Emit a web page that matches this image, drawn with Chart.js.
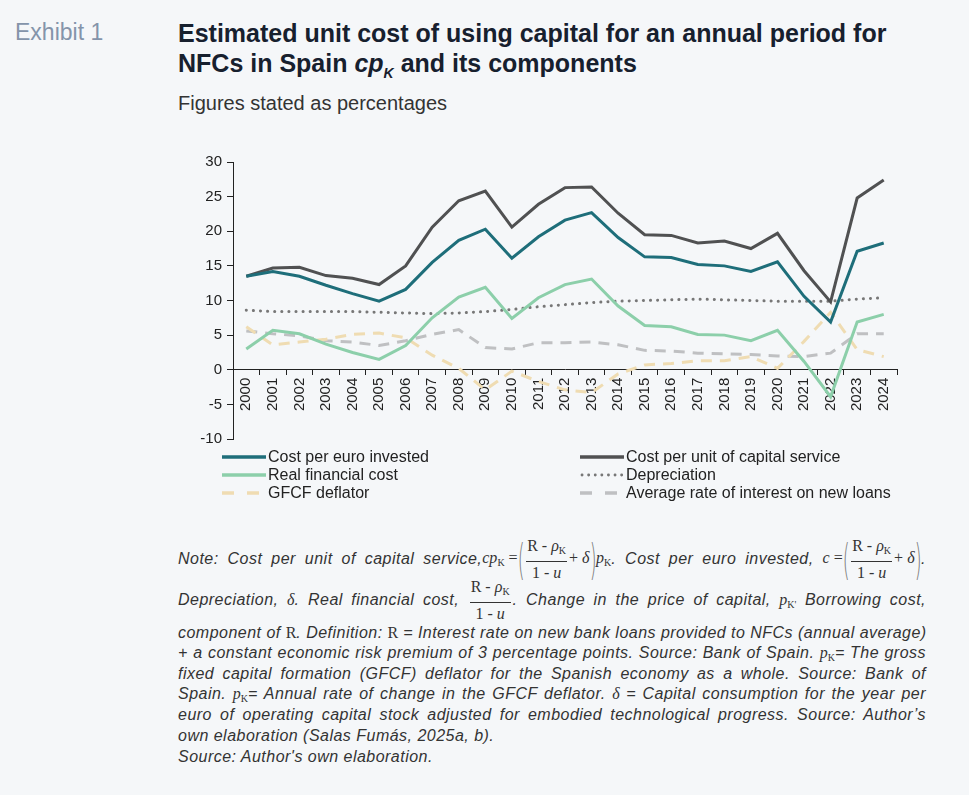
<!DOCTYPE html>
<html>
<head>
<meta charset="utf-8">
<script src="https://cdn.jsdelivr.net/npm/chart.js@4.4.1/dist/chart.umd.min.js"></script>
<style>
  html, body { margin: 0; padding: 0; }
  body { width: 969px; height: 795px; background: #f5f7f9; position: relative; overflow: hidden;
         font-family: "Liberation Sans", Arial, Helvetica, sans-serif; color: #222; }
  .abs { position: absolute; white-space: nowrap; }
  #exhibit { left: 15px; top: 19px; font-size: 23px; color: #8494aa; }
  #title { left: 178px; top: 18px; font-size: 25px; font-weight: bold; color: #17202e; line-height: 30px; }
  #title sub { font-size: 14px; vertical-align: -6px; }
  #subtitle { left: 178px; top: 92px; font-size: 20px; color: #333; }
  #chartWrap { left: 160px; top: 148px; width: 745px; height: 305px; }
  #legend { left: 222px; top: 448px; font-size: 16px; color: #222; }
  .lrow { position: absolute; white-space: nowrap; height: 18px; line-height: 18px; display: flex; align-items: center; }
  .lrow svg { display: block; margin-right: 2px; }
  .note { position: absolute; left: 178px; width: 748px; font-style: italic; font-size: 16px; letter-spacing: 0.48px; color: #333;
          text-align: justify; text-align-last: justify; white-space: nowrap; }
  .note.last { text-align-last: left; }
  .m { display: inline-block; vertical-align: middle; font-family: "Liberation Serif", "DejaVu Serif", serif; font-style: normal;
       font-size: 16px; letter-spacing: 0; text-align-last: auto; }
  .m i { font-style: italic; }
  .frac { display: inline-block; vertical-align: middle; text-align: center; text-align-last: center; margin: 0 2px; }
  .frac .num { display: block; border-bottom: 1px solid #333; padding: 0 1px 2px 1px; line-height: 16px; }
  .frac .den { display: block; padding-top: 3px; line-height: 16px; }
  .par { display: inline-block; font-family: "DejaVu Sans", sans-serif; font-weight: 200; font-size: 32px;
         color: #777; vertical-align: middle; transform: scaleX(0.55) scaleY(1.35); line-height: 30px; margin: 0 -3px; }
  .m sub { font-size: 10px; vertical-align: -3px; }
  .mi { display: inline; vertical-align: baseline; }
</style>
</head>
<body>
<div id="exhibit" class="abs">Exhibit 1</div>
<div id="title" class="abs">Estimated unit cost of using capital for an annual period for<br>NFCs in Spain <i>cp<sub>K</sub></i> and its components</div>
<div id="subtitle" class="abs">Figures stated as percentages</div>
<div id="chartWrap" class="abs"><canvas id="c" width="745" height="305"></canvas></div>
<div id="legend" class="abs"></div>

<div class="note" style="top:538px;">Note: Cost per unit of capital service,<span class="m"><i>cp</i><sub>K</sub> =<span class="par">(</span><span class="frac"><span class="num">R - <i>ρ</i><sub>K</sub></span><span class="den">1 - <i>u</i></span></span>+ <i>δ</i><span class="par">)</span><i>p</i><sub>K</sub></span>. Cost per euro invested, <span class="m"><i>c</i> =<span class="par">(</span><span class="frac"><span class="num">R - <i>ρ</i><sub>K</sub></span><span class="den">1 - <i>u</i></span></span>+ <i>δ</i><span class="par">)</span></span>.</div>
<div class="note" style="top:579px;">Depreciation, <span class="m mi"><i>δ</i></span>. Real financial cost, <span class="m"><span class="frac"><span class="num">R - <i>ρ</i><sub>K</sub></span><span class="den">1 - <i>u</i></span></span></span>. Change in the price of capital, <span class="m mi"><i>p</i><sub>K'</sub></span> Borrowing cost,</div>
<div class="note" style="top:624px;">component of <span class="m mi">R</span>. Definition: <span class="m mi">R</span> = Interest rate on new bank loans provided to NFCs (annual average)</div>
<div class="note" style="top:644px;">+ a constant economic risk premium of 3 percentage points. Source: Bank of Spain. <span class="m mi"><i>p</i><sub>K</sub></span>= The gross</div>
<div class="note" style="top:665px;">fixed capital formation (GFCF) deflator for the Spanish economy as a whole. Source: Bank of</div>
<div class="note" style="top:685px;">Spain. <span class="m mi"><i>p</i><sub>K</sub></span>= Annual rate of change in the GFCF deflator. <span class="m mi"><i>δ</i></span> = Capital consumption for the year per</div>
<div class="note" style="top:706px;">euro of operating capital stock adjusted for embodied technological progress. Source: Author’s</div>
<div class="note last" style="top:727px;">own elaboration (Salas Fumás, 2025a, b).</div>
<div class="note last" style="top:748px;">Source: Author's own elaboration.</div>

<script>
const years = ['2000','2001','2002','2003','2004','2005','2006','2007','2008','2009','2010','2011','2012',
               '2013','2014','2015','2016','2017','2018','2019','2020','2021','2022','2023','2024'];
const costPerEuro = [13.5,14.2,13.5,12.2,11.0,9.9,11.6,15.5,18.7,20.3,16.1,19.2,21.6,22.7,19.1,16.3,16.2,15.2,15.0,14.2,15.6,10.6,6.9,17.1,18.3];
const costPerUnit = [13.5,14.7,14.8,13.6,13.2,12.3,15.0,20.6,24.4,25.8,20.6,23.9,26.3,26.4,22.6,19.5,19.4,18.3,18.6,17.5,19.7,14.3,9.8,24.8,27.4];
const realFinancialCost = [3.0,5.7,5.2,3.7,2.5,1.5,3.5,7.5,10.5,11.9,7.4,10.4,12.3,13.1,9.2,6.4,6.2,5.1,5.0,4.2,5.7,1.2,-3.9,6.9,8.0];
const depreciation = [8.6,8.4,8.4,8.4,8.4,8.3,8.2,8.1,8.2,8.4,8.7,9.1,9.4,9.7,9.9,10.0,10.1,10.2,10.1,10.0,9.9,9.9,9.9,10.2,10.4];
const gfcfDeflator = [6.2,3.6,4.0,4.4,5.1,5.3,4.6,2.1,0.2,-2.9,-0.2,-1.7,-2.9,-3.3,-0.6,0.7,0.9,1.3,1.3,1.9,0.2,4.1,8.3,2.9,1.9];
const avgInterest = [5.6,5.2,4.9,4.2,4.0,3.5,4.2,5.1,5.8,3.2,3.0,3.9,3.9,4.0,3.6,2.8,2.7,2.4,2.3,2.2,2.0,1.9,2.4,5.2,5.2];
const yTicks = [30,25,20,15,10,5,0,-5,-10];

const series = [
  { label: 'Cost per euro invested', data: costPerEuro, color: '#1e6e7a', dash: [], width: 3, col: 0, row: 0 },
  { label: 'Cost per unit of capital service', data: costPerUnit, color: '#505152', dash: [], width: 3, col: 1, row: 0 },
  { label: 'Real financial cost', data: realFinancialCost, color: '#8ccfaa', dash: [], width: 3, col: 0, row: 1 },
  { label: 'Depreciation', data: depreciation, color: '#777777', dash: [0.1, 7], width: 3, cap: 'round', col: 1, row: 1 },
  { label: 'GFCF deflator', data: gfcfDeflator, color: '#efdcb2', dash: [11, 8], width: 3, col: 0, row: 2 },
  { label: 'Average rate of interest on new loans', data: avgInterest, color: '#bfc0c2', dash: [11, 8], width: 3, col: 1, row: 2 }
];

// HTML legend
const legend = document.getElementById('legend');
series.forEach(s => {
  const row = document.createElement('div');
  row.className = 'lrow';
  row.style.left = (s.col === 0 ? 0 : 358) + 'px';
  row.style.top = (s.row * 18) + 'px';
  const svgNS = 'http://www.w3.org/2000/svg';
  const svg = document.createElementNS(svgNS, 'svg');
  svg.setAttribute('width', '44'); svg.setAttribute('height', '8');
  const ln = document.createElementNS(svgNS, 'line');
  ln.setAttribute('x1', s.cap ? '2' : '0'); ln.setAttribute('x2', '44');
  ln.setAttribute('y1', '4'); ln.setAttribute('y2', '4');
  ln.setAttribute('stroke', s.color); ln.setAttribute('stroke-width', s.cap ? '2.8' : '3.5');
  if (s.cap) { ln.setAttribute('stroke-linecap', 'round'); ln.setAttribute('stroke-dasharray', '0.1 6.5'); }
  else if (s.dash.length) { ln.setAttribute('stroke-dasharray', '12 13'); }
  svg.appendChild(ln);
  row.appendChild(svg);
  const t = document.createElement('span');
  t.textContent = s.label;
  row.appendChild(t);
  legend.appendChild(row);
});

const ctx = document.getElementById('c');
new Chart(ctx, {
  type: 'line',
  data: {
    labels: years,
    datasets: series.map(s => ({
      label: s.label,
      data: s.data,
      borderColor: s.color,
      backgroundColor: s.color,
      borderWidth: s.width,
      borderDash: s.dash,
      borderCapStyle: s.cap || 'butt',
      borderJoinStyle: 'miter',
      pointRadius: 0,
      tension: 0,
      fill: false
    }))
  },
  options: {
    responsive: false,
    animation: false,
    devicePixelRatio: 1,
    layout: { padding: { top: 11, bottom: 9, right: 8, left: 0 } },
    plugins: { legend: { display: false }, tooltip: { enabled: false } },
    scales: {
      x: {
        type: 'category',
        position: { y: 0 },
        offset: true,
        grid: { offset: true, drawOnChartArea: false, drawTicks: true, tickLength: 5, color: '#222', lineWidth: 1 },
        border: { display: true, color: '#222', width: 1 },
        ticks: { minRotation: 90, maxRotation: 90, autoSkip: false, padding: 3, color: '#222',
                 font: { family: '"Liberation Sans", Arial, sans-serif', size: 15 } }
      },
      y: {
        min: -10, max: 30,
        afterBuildTicks: (scale) => { scale.ticks = yTicks.map(v => ({ value: v })); },
        afterFit: (scale) => { scale.width = 73; },
        grid: { drawOnChartArea: false, drawTicks: true, tickLength: 6, color: '#222' },
        border: { display: true, color: '#222', width: 1 },
        ticks: { padding: 5, color: '#222', font: { family: '"Liberation Sans", Arial, sans-serif', size: 15 } }
      }
    }
  }
});
</script>
</body>
</html>
